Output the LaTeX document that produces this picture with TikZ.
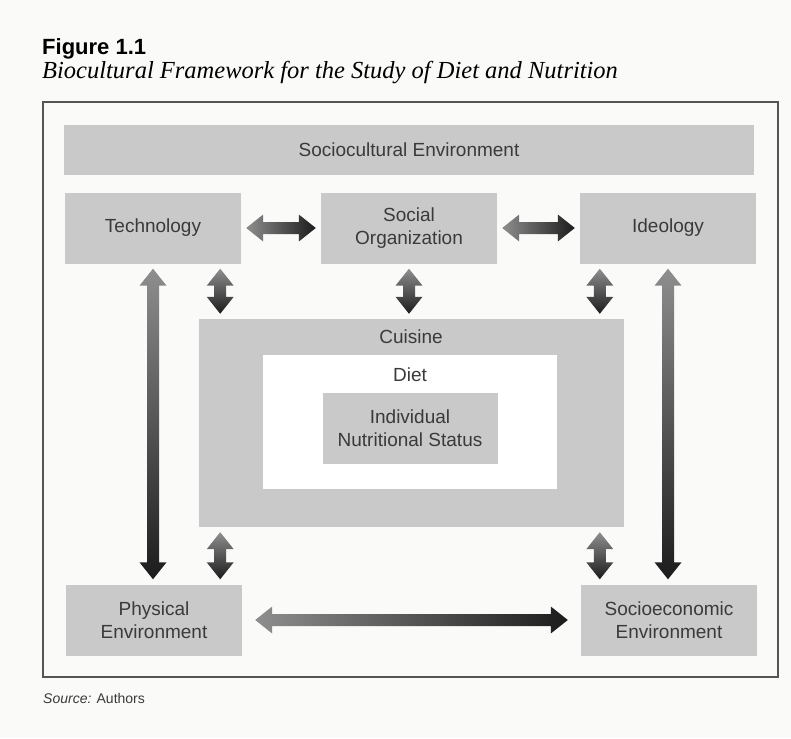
\documentclass[tikz,border=0pt]{standalone}
\usepackage{fontspec}
\setmainfont{Liberation Sans}
\newfontfamily\serifit{Liberation Serif}
\usetikzlibrary{calc}

\definecolor{paper}{HTML}{FAFAF8}
\definecolor{boxgray}{HTML}{C9C9C9}
\definecolor{textgray}{HTML}{3A3A3A}
\definecolor{framegray}{HTML}{555555}
\definecolor{arrowlight}{HTML}{8E8E8E}
\definecolor{arrowdark}{HTML}{1C1C1C}

\newcommand{\tiplen}{17pt}
\newcommand{\tipwd}{13.5pt}
\newcommand{\shaftwd}{6pt}

% fat double arrow, light on the left, dark on the right
\newcommand{\hbiarrow}[3][5pt]{%
  \shade[left color=arrowlight, right color=arrowdark]
    let \p1=(#2), \p2=(#3) in
    (\x1+#1,\y1) -- (\x1+#1+\tiplen,\y1+\tipwd) -- (\x1+#1+\tiplen,\y1+\shaftwd)
    -- (\x2-#1-\tiplen,\y1+\shaftwd) -- (\x2-#1-\tiplen,\y1+\tipwd) -- (\x2-#1,\y1)
    -- (\x2-#1-\tiplen,\y1-\tipwd) -- (\x2-#1-\tiplen,\y1-\shaftwd)
    -- (\x1+#1+\tiplen,\y1-\shaftwd) -- (\x1+#1+\tiplen,\y1-\tipwd) -- cycle;}

% fat double arrow, light on top, dark below (x from #1)
\newcommand{\vbiarrow}[3]{%
  \shade[top color=arrowlight, bottom color=arrowdark]
    let \p1=(#1), \p2=(#2), \p3=(#3) in
    (\x1,\y2-5pt) -- (\x1+\tipwd,\y2-5pt-\tiplen) -- (\x1+\shaftwd,\y2-5pt-\tiplen)
    -- (\x1+\shaftwd,\y3+5pt+\tiplen) -- (\x1+\tipwd,\y3+5pt+\tiplen) -- (\x1,\y3+5pt)
    -- (\x1-\tipwd,\y3+5pt+\tiplen) -- (\x1-\shaftwd,\y3+5pt+\tiplen)
    -- (\x1-\shaftwd,\y2-5pt-\tiplen) -- (\x1-\tipwd,\y2-5pt-\tiplen) -- cycle;}

\tikzset{
  box/.style={fill=boxgray, text=textgray, align=center, inner sep=0pt,
    minimum width=176pt, minimum height=71pt,
    font=\fontsize{19}{22.5}\selectfont},
  lbl/.style={text=textgray, font=\fontsize{19}{22.5}\selectfont}
}

\begin{document}
\begin{tikzpicture}[x=1pt, y=-1pt]

\fill[paper] (0,0) rectangle (791,738);
\useasboundingbox (0,0) rectangle (791,738);

\node[anchor=base west, inner sep=0pt, font=\fontsize{22}{25}\selectfont\bfseries] (fig) at (42,55) {Figure 1.1};
\node[anchor=base west, inner sep=0pt, font=\fontsize{24.5}{28}\selectfont\serifit\itshape] (title) at (42,79)
  {Biocultural Framework for the Study of Diet and Nutrition};

\draw[framegray, line width=1.5pt] (43,102) rectangle (778,677);

\node[box, minimum width=690pt, minimum height=50pt] (socult) at (409,150) {Sociocultural Environment};

\node[box] (tech) at (153,228) {Technology};
\node[box] (social) at (409,228) {Social\\Organization};
\node[box] (ideo) at (668,228) {Ideology};

\node[box, minimum width=425pt, minimum height=208pt] (cuisine) at (411,423) {};
\node[fill=white, minimum width=294pt, minimum height=134pt] (diet) at (410,422) {};
\node[box, minimum width=175pt] (status) at (410,428) {Individual\\Nutritional Status};
\node[lbl] (cuisinelbl) at (411,337) {Cuisine};
\node[lbl] (dietlbl) at (410,375) {Diet};

\node[box] (phys) at (154,620) {Physical\\Environment};
\node[box] (socioeco) at (669,620) {Socioeconomic\\Environment};

\hbiarrow{tech.east}{social.west}
\hbiarrow{social.east}{ideo.west}
\hbiarrow[13pt]{phys.east}{socioeco.west}

\vbiarrow{tech.south}{tech.south}{phys.north}
\vbiarrow{[xshift=-21pt]tech.south east}{tech.south}{cuisine.north}
\vbiarrow{social.south}{social.south}{cuisine.north}
\vbiarrow{[xshift=20pt]ideo.south west}{ideo.south}{cuisine.north}
\vbiarrow{ideo.south}{ideo.south}{socioeco.north}
\vbiarrow{[xshift=-21pt]tech.south east}{cuisine.south}{phys.north}
\vbiarrow{[xshift=20pt]ideo.south west}{cuisine.south}{socioeco.north}

\node[anchor=base west, inner sep=0pt, text=textgray, font=\fontsize{14}{16}\selectfont] (src) at (43,703)
  {\textit{Source:} Authors};

\end{tikzpicture}
\end{document}
